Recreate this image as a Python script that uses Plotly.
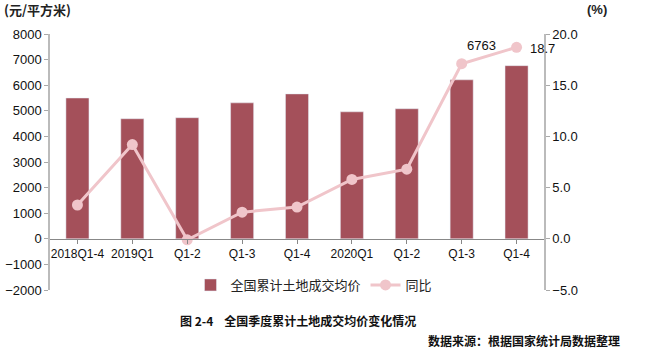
import plotly.graph_objects as go

categories = ["2018Q1-4", "2019Q1", "Q1-2", "Q1-3", "Q1-4", "2020Q1", "Q1-2", "Q1-3", "Q1-4"]
price = [5500, 4690, 4730, 5310, 5660, 4960, 5080, 6210, 6763]
yoy = [3.3, 9.2, -0.1, 2.6, 3.1, 5.8, 6.8, 17.1, 18.7]

BAR = "#A4505A"
LINE = "#F0C5CA"
CJK = "Noto Sans CJK SC"
NUM = "Liberation Sans, Arial"

xidx = list(range(len(categories)))

fig = go.Figure()
fig.add_trace(go.Bar(x=xidx, y=price, name="全国累计土地成交均价", marker_color=BAR,
                     yaxis="y"))
fig.add_trace(go.Scatter(x=xidx, y=yoy, name="同比", mode="lines+markers",
                         line=dict(color=LINE, width=3),
                         marker=dict(color=LINE, size=11), yaxis="y2"))

W, H = 648, 361
L, R, T, B = 50, 104, 34, 71
pw, ph = W - L - R, H - T - B

def px(x):
    return (x - L) / pw

def py(y):
    return (H - B - y) / ph

fig.update_layout(
    width=W, height=H,
    margin=dict(l=L, r=R, t=T, b=B, pad=0),
    plot_bgcolor="white", paper_bgcolor="white",
    bargap=0.58,
    showlegend=True,
    legend=dict(orientation="h", x=px(314), xanchor="center", y=py(285), yanchor="middle",
                font=dict(family=CJK, size=13, color="#222"), bgcolor="rgba(0,0,0,0)",
                itemwidth=30, tracegroupgap=0),
    xaxis=dict(tickmode="array", tickvals=xidx, ticktext=categories,
               range=[-0.5, len(categories) - 0.5], automargin=False,
               anchor="free", position=0.2, showline=True, linecolor="#888", linewidth=1,
               ticks="outside", tickson="boundaries", ticklen=4, tickcolor="#888",
               tickfont=dict(family=NUM, size=12, color="#111"), showgrid=False, zeroline=False),
    yaxis=dict(range=[-2000, 8000], dtick=1000, showgrid=False, zeroline=False, automargin=False,
               showline=True, linecolor="#BBB", linewidth=1.5, ticks="outside", ticklen=4,
               tickcolor="#AAA", tickfont=dict(family=NUM, size=13, color="#111")),
    yaxis2=dict(range=[-5, 20], dtick=5, tickformat=".1f", overlaying="y", side="right",
                automargin=False,
                showgrid=False, zeroline=False, showline=True, linecolor="#BBB", linewidth=1.5,
                ticks="outside", ticklen=4, tickcolor="#AAA",
                tickfont=dict(family=NUM, size=13, color="#111")),
)

ann = [
    dict(text="<b>(元/平方米)</b>", x=px(2), y=py(9), xanchor="left", yanchor="middle",
         font=dict(family=CJK, size=13, color="#222"), ),
    dict(text="<b>(%)</b>", x=px(585), y=py(9), xanchor="left", yanchor="middle",
         font=dict(family=NUM, size=13, color="#222")),
    dict(text="<b>图 2-4    全国季度累计土地成交均价变化情况</b>", x=px(178), y=py(320),
         xanchor="left", yanchor="middle", font=dict(family=CJK, size=12, color="#111")),
    dict(text="<b>数据来源：根据国家统计局数据整理</b>", x=px(622), y=py(340),
         xanchor="right", yanchor="middle", font=dict(family=CJK, size=12, color="#111")),
]
for a in ann:
    a.update(xref="paper", yref="paper", showarrow=False)
    fig.add_annotation(**a)

fig.add_annotation(x=xidx[-1], y=price[-1], xref="x", yref="y", text=str(price[-1]),
                   showarrow=False, xshift=-35, yshift=20,
                   font=dict(family=NUM, size=13, color="#111"))
fig.add_annotation(x=xidx[-1], y=yoy[-1], xref="x", yref="y2", text=f"{yoy[-1]:.1f}",
                   showarrow=False, xshift=26, yshift=-1,
                   font=dict(family=NUM, size=13, color="#111"))

fig.write_html("out.html", config={"displayModeBar": False},
               post_script="document.body.style.margin='0';document.body.style.overflow='hidden';")
